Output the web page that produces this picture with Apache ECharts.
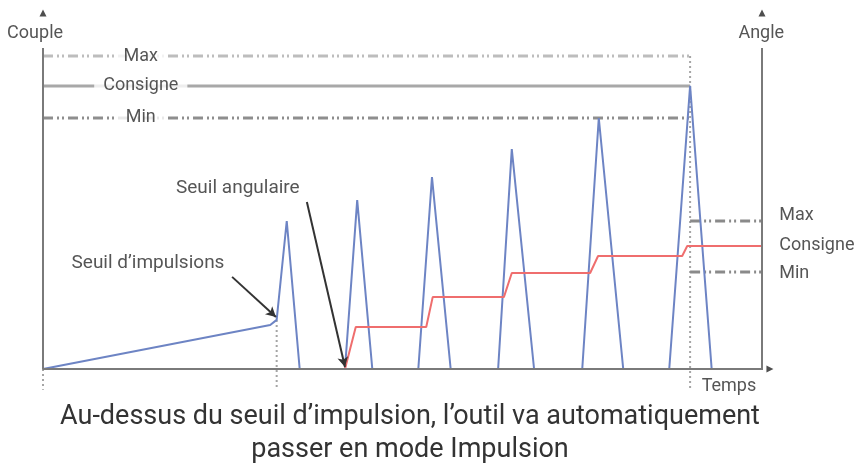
<!DOCTYPE html>
<html><head><meta charset="utf-8">
<script src="https://cdn.jsdelivr.net/npm/echarts@6/dist/echarts.min.js"></script>
<style>html,body{margin:0;padding:0;background:#fff}#c{width:855px;height:465px}</style>
</head><body><div id="c"></div>
<script>
const FONT = 'Roboto';
// Levels (left: torque / right: angle), percent of axis height
const levelNames = ['Max', 'Consigne', 'Min'];
const torqueLevels = [97.5, 88.2, 78.2];
const angleLevels = [46.1, 38.3, 30.2];
const levelEndTime = 90;
// Torque ramp then pulses
const rampTime = [0, 31.6, 32.5];
const rampTorque = [0, 13.7, 15.3];
const pulseStart = [32.5, 42.0, 52.2, 63.3, 75.0, 87.1];
const pulsePeakTime = [33.9, 43.7, 54.1, 65.2, 77.3, 90.0];
const pulsePeak = [46.1, 52.6, 59.8, 68.5, 78.2, 88.2];
const pulseEnd = [35.7, 45.8, 56.7, 68.3, 80.7, 93.0];
// Angle staircase
const angleTime = [42.0, 43.5, 53.3, 54.2, 64.1, 65.2, 76.1, 77.2, 88.9, 89.6, 100];
const angleValue = [0, 13.1, 13.1, 22.4, 22.4, 29.9, 29.9, 35.2, 35.2, 38.3, 38.3];
// Dotted guides
const guideTime = [0, 32.5, 90];
const guideTop = [0, 15.3, 97.5];
const guideBottom = -6.5;
// Annotations
const annotations = ['Seuil d’impulsions', 'Seuil angulaire'];
const annotationAt = [[14.6, 33.0], [27.1, 56.4]];
const arrowFrom = [[26.3, 28.7], [36.7, 52.0]];
const arrowTo = [[32.4, 16.2], [42.0, 0.6]];
const axisNames = ['Couple', 'Angle', 'Temps'];
const axisNameAt = [[-1.1, 104.4], [99.9, 104.4], [95.4, -5.6]];
const caption = ['Au-dessus du seuil d’impulsion, l’outil va automatiquement', 'passer en mode Impulsion'];

const AXIS = '#7a7a7a', TXT = '#2a2a2a';
const DASHDOT = [10, 4, 2, 3, 2, 4];

// build torque polyline
const torque = rampTime.map((t, i) => [t, rampTorque[i]]);
pulseStart.forEach((s, i) => {
  if (i > 0) { torque.push([null, null]); torque.push([s, 0]); }
  torque.push([pulsePeakTime[i], pulsePeak[i]]);
  torque.push([pulseEnd[i], 0]);
});
const angle = angleTime.map((t, i) => [t, angleValue[i]]);

const series = [];
function seg(data, color, width, type, z) {
  series.push({ type: 'line', data, symbol: 'none', clip: false, silent: true, z: z || 2,
    lineStyle: { color, width, type: type || 'solid', cap: 'butt' }, connectNulls: false, animation: false });
}
// axes
seg([[0, 100], [0, 0], [101, 0]], AXIS, 2, 'solid', 5);
seg([[100, 0], [100, 100]], AXIS, 2, 'solid', 5);
// levels
const levelColors = ['#bdbdbd', '#a8a8a8', '#8e8e8e'];
torqueLevels.forEach((v, i) => {
  seg([[0, v], [levelEndTime, v]], levelColors[i], 3, i === 1 ? 'solid' : DASHDOT, 2);
});
[0, 2].forEach(i => seg([[levelEndTime, angleLevels[i]], [100, angleLevels[i]]], '#8a8a8a', 3, DASHDOT, 2));
// guides
guideTime.forEach((t, i) => seg([[t, guideTop[i]], [t, guideBottom]], '#a5a5a5', 2, [2, 3], 1));
// torque / angle
seg(torque, '#6d84c4', 2, 'solid', 3);
seg(angle, '#ef6e6e', 2, 'solid', 3);
// annotation arrows
series.push({ type: 'line', data: [], silent: true, animation: false,
  markLine: { silent: true, animation: false, symbol: ['none', 'arrow'], symbolSize: [8, 10],
    lineStyle: { color: '#333', width: 2, type: 'solid' }, label: { show: false },
    data: arrowFrom.map((f, i) => [{ coord: f }, { coord: arrowTo[i] }]) } });
// axis arrowheads
series.push({ type: 'scatter', clip: false, silent: true, animation: false, z: 6,
  symbol: 'triangle', symbolSize: [7, 7], itemStyle: { color: '#222' },
  data: [{ value: [0, 110.9] }, { value: [100, 110.9] }, { value: [101.1, 0], symbolRotate: -90 }] });
// text labels
const labels = [];
levelNames.forEach((n, i) => labels.push({ value: [13.6, torqueLevels[i]], name: n,
  label: { position: 'inside', backgroundColor: '#fff', padding: [2, 9] } }));
levelNames.forEach((n, i) => labels.push({ value: [102.4, [47.7, 38.6, 29.9][i]], name: n,
  label: { position: 'right', distance: 0 } }));
annotations.forEach((n, i) => labels.push({ value: annotationAt[i], name: n, label: { position: 'inside', fontSize: 19 } }));
axisNames.forEach((n, i) => labels.push({ value: axisNameAt[i], name: n, label: { position: 'inside' } }));
series.push({ type: 'scatter', clip: false, silent: true, animation: false, z: 7, symbolSize: 0,
  data: labels, label: { show: true, formatter: p => p.name, color: TXT, fontFamily: FONT, fontSize: 18 } });

const chart = echarts.init(document.getElementById('c'), null, { renderer: 'canvas' });
chart.setOption({
  animation: false,
  backgroundColor: '#fff',
  grid: { left: 43, right: 93, top: 48, bottom: 96 },
  xAxis: { type: 'value', min: 0, max: 100, show: false },
  yAxis: [{ type: 'value', min: 0, max: 100, show: false }],
  graphic: caption.map((c, i) => ({ type: 'text', x: 410, y: 417 + i * 33, silent: true,
    style: { text: c, align: 'center', verticalAlign: 'middle', textAlign: 'center', textVerticalAlign: 'middle',
      fontFamily: FONT, fontSize: 27, fill: '#333' } })),
  series
});
</script></body></html>
